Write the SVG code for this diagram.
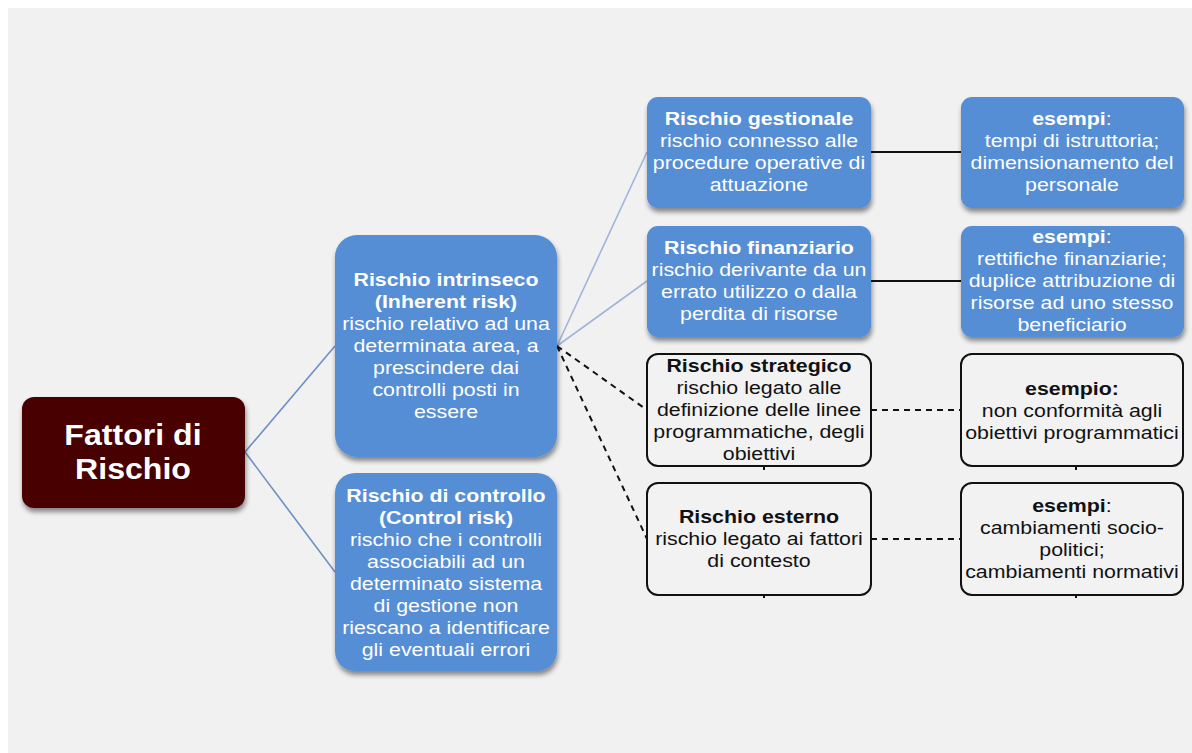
<svg xmlns="http://www.w3.org/2000/svg" width="1192" height="753" viewBox="0 0 1192 753">
<defs>
<filter id="sh" x="-10%" y="-10%" width="125%" height="130%">
<feGaussianBlur in="SourceAlpha" stdDeviation="2.5"/>
<feOffset dx="1" dy="4" result="b"/>
<feComponentTransfer><feFuncA type="linear" slope="0.45"/></feComponentTransfer>
<feMerge><feMergeNode/><feMergeNode in="SourceGraphic"/></feMerge>
</filter>
<style>
text{font-family:"Liberation Sans",Arial,sans-serif;font-size:18.5px;text-anchor:middle}
.w{fill:#ffffff}
.k{fill:#111111}
.b{font-weight:bold}
.blue{fill:#558ed5}
.wb{fill:#f2f2f2;stroke:#111111;stroke-width:2}
.c1{stroke:#6d8fc8;stroke-width:1.6;fill:none}
.c2{stroke:#9fb5da;stroke-width:1.6;fill:none}
.sol{stroke:#111111;stroke-width:2;fill:none}
.dash{stroke:#111111;stroke-width:2;stroke-dasharray:6 5;fill:none}
</style>
</defs>
<rect x="0" y="0" width="1192" height="753" fill="#ffffff"/>
<rect x="8" y="8" width="1184" height="745" fill="#f1f1f1"/>

<g id="connectors">
<line class="c1" x1="245" y1="452" x2="335" y2="346"/>
<line class="c1" x1="245" y1="452" x2="335" y2="572"/>
<line class="c2" x1="557" y1="346" x2="647" y2="152"/>
<line class="c2" x1="557" y1="346" x2="647" y2="281"/>
<line class="dash" x1="557" y1="346" x2="647" y2="410"/>
<line class="dash" x1="557" y1="346" x2="647" y2="539"/>
<line class="sol" x1="871" y1="152" x2="961" y2="152"/>
<line class="sol" x1="871" y1="281" x2="961" y2="281"/>
<line class="dash" x1="871" y1="410" x2="961" y2="410"/>
<line class="dash" x1="871" y1="539" x2="961" y2="539"/>
<line class="sol" x1="764" y1="466" x2="764" y2="470"/>
<line class="sol" x1="764" y1="595" x2="764" y2="598"/>
<line class="sol" x1="1076" y1="466" x2="1076" y2="470"/>
<line class="sol" x1="1076" y1="595" x2="1076" y2="598"/>
</g>

<g id="fattori">
<rect x="22" y="397" width="223" height="111" rx="12" fill="#4a0000" filter="url(#sh)"/>
<text class="w b" x="133" y="445" style="font-size:30px" transform="matrix(1.07 0 0 1 -9.31 0)"><tspan>Fattori di</tspan><tspan x="133" dy="34">Rischio</tspan></text>
</g>

<g id="intrinseco">
<rect class="blue" x="335" y="235" width="222" height="222" rx="22" filter="url(#sh)"/>
<text class="w" x="446" y="286" transform="matrix(1.155 0 0 1 -69.13 0)"><tspan class="b">Rischio intrinseco</tspan><tspan class="b" x="446" dy="22">(Inherent risk)</tspan><tspan x="446" dy="22">rischio relativo ad una</tspan><tspan x="446" dy="22">determinata area, a</tspan><tspan x="446" dy="22">prescindere dai</tspan><tspan x="446" dy="22">controlli posti in</tspan><tspan x="446" dy="22">essere</tspan></text>
</g>

<g id="controllo">
<rect class="blue" x="335" y="473" width="222" height="198" rx="20" filter="url(#sh)"/>
<text class="w" x="446" y="502" transform="matrix(1.155 0 0 1 -69.13 0)"><tspan class="b">Rischio di controllo</tspan><tspan class="b" x="446" dy="22">(Control risk)</tspan><tspan x="446" dy="22">rischio che i controlli</tspan><tspan x="446" dy="22">associabili ad un</tspan><tspan x="446" dy="22">determinato sistema</tspan><tspan x="446" dy="22">di gestione non</tspan><tspan x="446" dy="22">riescano a identificare</tspan><tspan x="446" dy="22">gli eventuali errori</tspan></text>
</g>

<g id="gestionale">
<rect class="blue" x="647" y="97" width="224" height="111" rx="11" filter="url(#sh)"/>
<text class="w" x="759" y="125" transform="matrix(1.155 0 0 1 -117.645 0)"><tspan class="b">Rischio gestionale</tspan><tspan x="759" dy="22">rischio connesso alle</tspan><tspan x="759" dy="22">procedure operative di</tspan><tspan x="759" dy="22">attuazione</tspan></text>
</g>

<g id="finanziario">
<rect class="blue" x="647" y="226" width="224" height="111" rx="11" filter="url(#sh)"/>
<text class="w" x="759" y="254" transform="matrix(1.155 0 0 1 -117.645 0)"><tspan class="b">Rischio finanziario</tspan><tspan x="759" dy="22">rischio derivante da un</tspan><tspan x="759" dy="22">errato utilizzo o dalla</tspan><tspan x="759" dy="22">perdita di risorse</tspan></text>
</g>

<g id="strategico">
<rect class="wb" x="647" y="354" width="224" height="112" rx="11"/>
<text class="k" x="759" y="372" transform="matrix(1.155 0 0 1 -117.645 0)"><tspan class="b">Rischio strategico</tspan><tspan x="759" dy="22">rischio legato alle</tspan><tspan x="759" dy="22">definizione delle linee</tspan><tspan x="759" dy="22">programmatiche, degli</tspan><tspan x="759" dy="22">obiettivi</tspan></text>
</g>

<g id="esterno">
<rect class="wb" x="647" y="483" width="224" height="112" rx="11"/>
<text class="k" x="759" y="523" transform="matrix(1.155 0 0 1 -117.645 0)"><tspan class="b">Rischio esterno</tspan><tspan x="759" dy="22">rischio legato ai fattori</tspan><tspan x="759" dy="22">di contesto</tspan></text>
</g>

<g id="esempi-gestionale">
<rect class="blue" x="961" y="97" width="223" height="111" rx="11" filter="url(#sh)"/>
<text class="w" x="1072" y="125" transform="matrix(1.155 0 0 1 -166.16 0)"><tspan class="b">esempi</tspan><tspan>:</tspan><tspan x="1072" dy="22">tempi di istruttoria;</tspan><tspan x="1072" dy="22">dimensionamento del</tspan><tspan x="1072" dy="22">personale</tspan></text>
</g>

<g id="esempi-finanziario">
<rect class="blue" x="961" y="226" width="223" height="111" rx="11" filter="url(#sh)"/>
<text class="w" x="1072" y="243" transform="matrix(1.155 0 0 1 -166.16 0)"><tspan class="b">esempi</tspan><tspan>:</tspan><tspan x="1072" dy="22">rettifiche finanziarie;</tspan><tspan x="1072" dy="22">duplice attribuzione di</tspan><tspan x="1072" dy="22">risorse ad uno stesso</tspan><tspan x="1072" dy="22">beneficiario</tspan></text>
</g>

<g id="esempio-strategico">
<rect class="wb" x="961" y="354" width="222" height="112" rx="11"/>
<text class="k" x="1072" y="395" transform="matrix(1.155 0 0 1 -166.16 0)"><tspan class="b">esempio:</tspan><tspan x="1072" dy="22">non conformità agli</tspan><tspan x="1072" dy="22">obiettivi programmatici</tspan></text>
</g>

<g id="esempi-esterno">
<rect class="wb" x="961" y="483" width="222" height="112" rx="11"/>
<text class="k" x="1072" y="512" transform="matrix(1.155 0 0 1 -166.16 0)"><tspan class="b">esempi</tspan><tspan>:</tspan><tspan x="1072" dy="22">cambiamenti socio-</tspan><tspan x="1072" dy="22">politici;</tspan><tspan x="1072" dy="22">cambiamenti normativi</tspan></text>
</g>
</svg>
